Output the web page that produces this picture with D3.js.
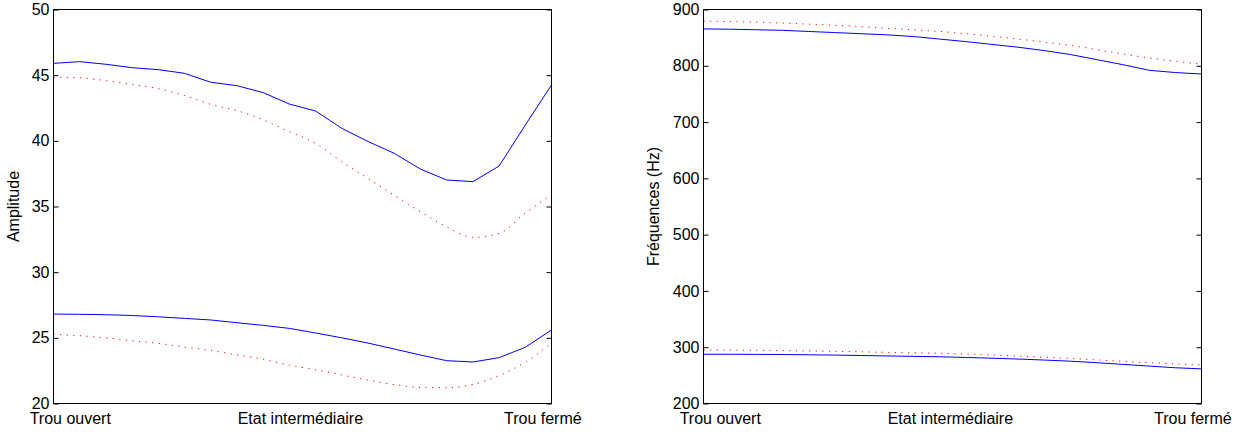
<!DOCTYPE html>
<html>
<head>
<meta charset="utf-8">
<script src="https://cdn.jsdelivr.net/npm/d3@7"></script>
<style>
  html, body { margin: 0; padding: 0; background: #fff; }
  svg { display: block; }
  text { font-family: "Liberation Sans", Arial, Helvetica, sans-serif; fill: #000; }
</style>
</head>
<body>
<svg id="chart" width="1243" height="432"></svg>
<script>
// ---------- data ----------
const categories = ["Trou ouvert", "Etat intermédiaire", "Trou fermé"];
const categoryTicks = [1.62, 10.4, 19.65];
const steps = [1, 2, 3, 4, 5, 6, 7, 8, 9, 10, 11, 12, 13, 14, 15, 16, 17, 18, 19, 20];

const amplitudeTicks = [20, 25, 30, 35, 40, 45, 50];
const frequencyTicks = [200, 300, 400, 500, 600, 700, 800, 900];

// Amplitude panel
const ampUpperMeasured = [45.9, 46.03, 45.83, 45.57, 45.42, 45.14, 44.46, 44.2, 43.67, 42.8, 42.27, 40.95, 39.95, 39.05, 37.85, 37.02, 36.89, 38.08, 41.2, 44.25];
const ampUpperModel    = [44.84, 44.8, 44.58, 44.3, 43.97, 43.45, 42.78, 42.3, 41.6, 40.7, 39.81, 38.4, 37.14, 35.85, 34.6, 33.46, 32.65, 32.95, 34.5, 35.9];
const ampLowerMeasured = [26.81, 26.79, 26.76, 26.7, 26.6, 26.48, 26.36, 26.15, 25.95, 25.72, 25.37, 25.0, 24.6, 24.15, 23.69, 23.26, 23.16, 23.49, 24.28, 25.6];
const ampLowerModel    = [25.27, 25.16, 25.0, 24.78, 24.58, 24.3, 24.03, 23.71, 23.36, 22.92, 22.57, 22.17, 21.78, 21.44, 21.22, 21.2, 21.45, 22.13, 23.15, 24.6];

// Frequency panel
const freqUpperMeasured = [865.5, 865, 864, 863, 861, 859, 857, 855, 852, 847.5, 843, 838, 833, 827, 820, 811, 802, 792, 788, 785.4];
const freqUpperModel    = [879.5, 878.5, 877.5, 876, 874, 872, 869.5, 866.5, 864, 861, 857, 852.5, 847.5, 842, 836, 829, 821, 814, 808, 803];
const freqLowerMeasured = [287.5, 287.5, 287.3, 287, 286.6, 286, 285.3, 284.5, 283.7, 283, 281.8, 280.5, 279, 277.2, 275.2, 272.5, 269.5, 266.5, 263.5, 261.5];
const freqLowerModel    = [295, 294.8, 294.5, 294, 293.4, 292.7, 291.8, 290.9, 290, 289.2, 287.8, 286.2, 284.3, 282.2, 280, 277.5, 275, 272.5, 270.3, 268.4];

// ---------- layout ----------
const panels = [
  { left: 53.5, right: 551.5, top: 9.5, bottom: 403.5, domain: [20, 50], ticks: amplitudeTicks,
    label: "Amplitude", labelX: 18.5,
    solid: [ampUpperMeasured, ampLowerMeasured], dotted: [ampUpperModel, ampLowerModel] },
  { left: 703.5, right: 1201.5, top: 9.5, bottom: 403.5, domain: [200, 900], ticks: frequencyTicks,
    label: "Fréquences (Hz)", labelX: 658.5,
    solid: [freqUpperMeasured, freqLowerMeasured], dotted: [freqUpperModel, freqLowerModel] }
];

const svg = d3.select("#chart");
const FS = 16;

panels.forEach(p => {
  const x = d3.scaleLinear().domain([1, 20]).range([p.left, p.right]);
  const y = d3.scaleLinear().domain(p.domain).range([p.bottom, p.top]);
  const g = svg.append("g");

  // white axes background + box
  g.append("rect").attr("x", p.left).attr("y", p.top)
    .attr("width", p.right - p.left).attr("height", p.bottom - p.top)
    .attr("fill", "#fff");

  // left axis: inward ticks + labels
  const la = g.append("g").attr("transform", `translate(${p.left},0)`)
    .call(d3.axisLeft(y).tickValues(p.ticks).tickSize(-5).tickPadding(4).tickFormat(d3.format("d")));
  la.select(".domain").remove();
  la.selectAll("line").attr("stroke", "#000").attr("stroke-width", 1);
  la.selectAll("text").attr("font-size", FS).attr("font-family", "Liberation Sans, Arial, sans-serif");

  // right axis: inward ticks only
  const ra = g.append("g").attr("transform", `translate(${p.right},0)`)
    .call(d3.axisRight(y).tickValues(p.ticks).tickSize(-5).tickFormat(""));
  ra.select(".domain").remove();
  ra.selectAll("line").attr("stroke", "#000");

  // bottom category labels
  const ba = g.append("g").attr("transform", `translate(0,${p.bottom})`)
    .call(d3.axisBottom(x).tickValues(categoryTicks).tickSize(0).tickPadding(9)
      .tickFormat((d, i) => categories[i]));
  ba.select(".domain").remove();
  ba.selectAll("text").attr("font-size", FS).attr("font-family", "Liberation Sans, Arial, sans-serif");

  // lines
  const solidLine = d3.line().x((d, i) => x(steps[i])).y(d => y(d));
  const dottedLine = d3.line().x((d, i) => x(steps[i])).y(d => y(d)).curve(d3.curveMonotoneX);

  p.dotted.forEach(s => {
    g.append("path").datum(s).attr("d", dottedLine)
      .attr("fill", "none").attr("stroke", "#ff0000").attr("stroke-width", 1)
      .attr("stroke-dasharray", "1.2 5.4");
  });
  p.solid.forEach(s => {
    g.append("path").datum(s).attr("d", solidLine)
      .attr("fill", "none").attr("stroke", "#0000ff").attr("stroke-width", 1);
  });

  // box
  g.append("rect").attr("x", p.left).attr("y", p.top)
    .attr("width", p.right - p.left).attr("height", p.bottom - p.top)
    .attr("fill", "none").attr("stroke", "#000").attr("stroke-width", 1);

  // y label
  const cy = (p.top + p.bottom) / 2;
  g.append("text").attr("transform", `translate(${p.labelX},${cy}) rotate(-90)`)
    .attr("text-anchor", "middle").attr("font-size", FS).text(p.label);
});
</script>
</body>
</html>
